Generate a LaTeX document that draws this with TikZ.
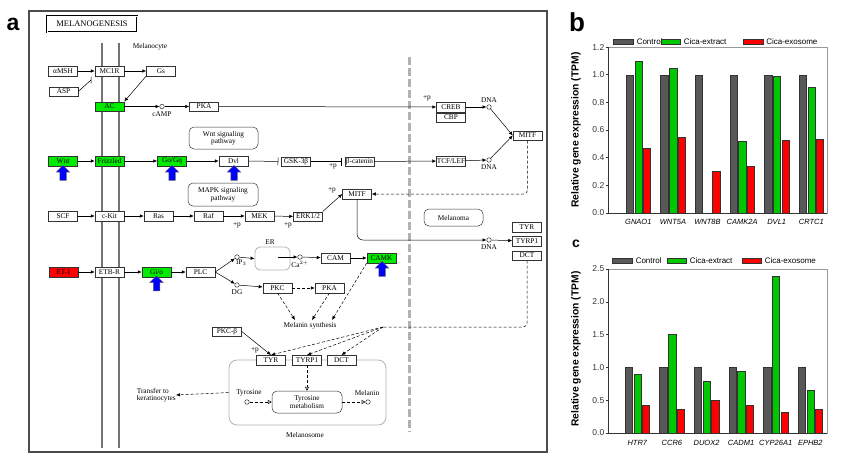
\documentclass[tikz,border=0pt]{standalone}
\usepackage{fontspec}
\setmainfont{Liberation Serif}
\newfontfamily\arial{Liberation Sans}
\usepackage{tikz}
\usetikzlibrary{arrows.meta, shapes.arrows, positioning}
\definecolor{keggGreen}{RGB}{0,235,0}
\definecolor{barGreen}{RGB}{0,200,0}
\definecolor{barGray}{RGB}{88,88,88}
\tikzset{
    gene/.style={draw=black!80, fill=white, minimum width=29pt, minimum height=9.5pt, inner sep=0pt, font=\fontsize{7.3}{7.5}\selectfont},
    ongene/.style={gene, fill=keggGreen},
    redgene/.style={gene, fill=red},
    pathway/.style={draw=black!80, rounded corners=5pt, align=center, inner sep=0pt, font=\fontsize{7.3}{7.5}\selectfont},
    cpd/.style={circle, draw=black!80, fill=white, inner sep=0pt, minimum size=4.5pt},
    lbl/.style={inner sep=0pt, font=\fontsize{7.3}{7.5}\selectfont},
    act/.style={-{Latex[length=4pt,width=3.5pt]}},
    inh/.style={-{Bar[width=8pt]}, shorten >=3pt},
    ind/.style={dash pattern=on 3pt off 2pt, -{Latex[length=4pt,width=3.5pt]}},
    upreg/.style={single arrow, draw=black!60, fill=blue, shape border rotate=90, minimum height=15pt, single arrow head extend=3.5pt, single arrow head indent=0pt, inner sep=3pt},
    ctrlbar/.style={draw=black!80, fill=barGray, line width=0.4pt},
    extbar/.style={draw=black!80, fill=barGreen, line width=0.4pt},
    exobar/.style={draw=black!80, fill=red, line width=0.4pt},
    tick/.style={font=\arial\fontsize{8.5}{9}\selectfont, left=1pt, inner sep=0pt},
    glab/.style={font=\arial\itshape\fontsize{7.5}{8}\selectfont, inner sep=0pt},
    leg/.style={font=\arial\fontsize{8}{9}\selectfont, anchor=west, inner sep=0pt},
    ylab/.style={rotate=90, font=\arial\bfseries\fontsize{10.3}{11}\selectfont, inner sep=0pt}
}

\begin{document}
\begin{tikzpicture}[x=1pt, y=-1pt, line width=0.5pt]
    \useasboundingbox (0,0) rectangle (842,464);
    % panel a: melanogenesis map
    \node[font=\arial\bfseries\fontsize{23}{23}\selectfont] (pa) at (13,24) {a};
    \draw[black!70, line width=1.2pt] (29,11) rectangle (547,452);
    \node[draw, double, double distance=0.8pt, minimum width=90pt, minimum height=16pt, inner sep=0pt, font=\fontsize{8.5}{9}\selectfont] (title) at (92,24) {MELANOGENESIS};
    \draw[black!55, line width=1.3pt] (102,43) -- (102,448) (119,43) -- (119,448);
    \draw[black!30, line width=3pt, dash pattern=on 8pt off 3pt] (409,57) -- (409,432);
    \node[draw=black!30, line width=0.8pt, rounded corners=8pt, minimum width=157pt, minimum height=65pt] (melsome) at (307.5,392.5) {};
    \node[draw=black!30, line width=0.8pt, rounded corners=5pt, minimum width=35pt, minimum height=23pt] (er) at (272.5,258.5) {};
    \node[lbl] (melanocyte) at (150,47) {Melanocyte};

    \node[gene] (aMSH) at (63,71) {αMSH};
    \node[gene] (MC1R) at (109.5,71) {MC1R};
    \node[gene] (Gs) at (161,71) {Gs};
    \node[gene] (ASP) at (63.5,91.5) {ASP};
    \node[ongene] (AC) at (109.5,106.5) {AC};
    \node[cpd] (camp) at (162,106.5) {};
    \node[lbl, below=2pt of camp] (camplab) {cAMP};
    \node[gene] (PKA) at (204,106.5) {PKA};
    \node[gene] (CREB) at (451,107) {CREB};
    \node[gene] (CBP) at (451,117.5) {CBP};
    \node[cpd] (dnaC) at (489,107) {};
    \node[lbl, above=1.5pt of dnaC] (dnaClab) {DNA};
    \node[lbl] (pCREB) at (427,98) {+p};
    \node[gene] (MITFr) at (527.5,135.5) {MITF};

    \node[pathway, minimum width=69pt, minimum height=22pt] (wntpath) at (223.5,138) {Wnt signaling\\pathway};
    \node[ongene] (Wnt) at (63,161) {Wnt};
    \node[ongene] (Frizzled) at (109.5,161) {Frizzled};
    \node[ongene] (GoGq) at (172,161) {Go/Gq};
    \node[gene] (Dvl) at (233.5,161) {Dvl};
    \node[gene] (GSK) at (296,161.5) {GSK-3β};
    \node[gene] (bcat) at (359.5,161.5) {β-catenin};
    \node[lbl] (pbcat) at (333,166) {+p};
    \node[gene] (TCF) at (451,161) {TCF/LEF};
    \node[cpd] (dnaT) at (489,160) {};
    \node[lbl, below=1.5pt of dnaT] (dnaTlab) {DNA};
    \node[upreg] (upWnt) at (63,174.5) {};
    \node[upreg] (upGoGq) at (172,174.5) {};
    \node[upreg] (upDvl) at (234,174.5) {};

    \node[pathway, minimum width=70pt, minimum height=23pt] (mappath) at (223,194.5) {MAPK signaling\\pathway};
    \node[gene] (MITFm) at (357,194) {MITF};
    \node[lbl] (pMITF) at (332,190) {+p};
    \node[gene] (SCF) at (63,216) {SCF};
    \node[gene] (cKit) at (109.5,216) {c-Kit};
    \node[gene] (Ras) at (158.5,216) {Ras};
    \node[gene] (Raf) at (208.5,216) {Raf};
    \node[gene] (MEK) at (259.5,216) {MEK};
    \node[gene] (ERK) at (308,216.5) {ERK1/2};
    \node[lbl] (pMEK) at (237,225) {+p};
    \node[lbl] (pERK) at (288,225) {+p};
    \node[pathway, minimum width=59pt, minimum height=17pt] (melanoma) at (453.5,217.5) {Melanoma};
    \node[gene] (TYRr) at (527,227) {TYR};
    \node[gene] (TYRP1r) at (527,241) {TYRP1};
    \node[gene] (DCTr) at (527,255.5) {DCT};
    \node[cpd] (dnaM) at (489,240) {};
    \node[lbl, below=1.5pt of dnaM] (dnaMlab) {DNA};

    \node[redgene] (ET1) at (63.5,272) {ET-1};
    \node[gene] (ETBR) at (109.5,272) {ETB-R};
    \node[ongene] (Gio) at (156.5,272) {Gi/o};
    \node[upreg] (upGio) at (156.5,285) {};
    \node[gene] (PLC) at (200.5,272) {PLC};
    \node[cpd] (ip3) at (237,257) {};
    \node[lbl, below right=1pt and -3pt of ip3] (ip3lab) {IP$_3$};
    \node[cpd] (dg) at (237,285) {};
    \node[lbl, below=2pt of dg] (dglab) {DG};
    \node[lbl] (erlab) at (270,242) {ER};
    \coordinate (erin) at (278,257);
    \node[cpd] (ca) at (300,257) {};
    \node[lbl, below=1.5pt of ca] (calab) {Ca$^{2+}$};
    \node[gene] (CAM) at (335.5,258) {CAM};
    \node[ongene] (CAMK) at (381.5,258) {CAMK};
    \node[upreg] (upCAMK) at (382,270.5) {};
    \node[gene] (PKC) at (277.5,288) {PKC};
    \node[gene] (PKA2) at (329.5,288) {PKA};
    \node[lbl] (msynlab) at (310,326) {Melanin synthesis};
    \coordinate (ms1) at (295,320);
    \coordinate (ms2) at (312,320);
    \coordinate (ms3) at (332,320);
    \coordinate (msyn) at (383,327);

    \node[gene] (PKCb) at (227,331.5) {PKC-β};
    \node[lbl] (pTYR) at (255,350) {+p};
    \node[gene] (TYRl) at (271,360) {TYR};
    \node[gene] (TYRP1l) at (307,360) {TYRP1};
    \node[gene] (DCTl) at (341.5,360) {DCT};
    \node[pathway, minimum width=70pt, minimum height=22pt] (tyrmet) at (307,402) {Tyrosine\\metabolism};
    \node[cpd] (tyrosine) at (247,402) {};
    \node[lbl] (tyrlab) at (249,393) {Tyrosine};
    \node[cpd] (melanin) at (368,402) {};
    \node[lbl] (mellab) at (367,393) {Melanin};
    \node[lbl] (mslab) at (305,435) {Melanosome};
    \node[lbl, align=left, anchor=east] (transfer) at (176,395) {Transfer to\\keratinocytes};

    % connectors
    \draw[act] (aMSH) -- (MC1R);
    \draw[act] (MC1R) -- (Gs);
    \coordinate (aspbar) at (91,80);
    \draw (ASP.east) -- (aspbar) ++(0,-3.5) -- ++(0,7);
    \draw[act] (Gs.south west) -- (AC.north east);
    \draw[act] (AC) -- (camp);
    \draw[act] (camp) -- (PKA);
    \draw[act] (PKA) -- (CREB);
    \draw[act] (CREB) -- (dnaC);
    \draw[act] (dnaC) -- (MITFr.west);
    \draw[act] (dnaT) -- (MITFr.west);
    \draw[act] (Wnt) -- (Frizzled);
    \draw[act] (Frizzled) -- (GoGq);
    \draw[act] (GoGq) -- (Dvl);
    \draw[inh] (Dvl) -- (GSK);
    \draw[inh] (GSK) -- (bcat);
    \draw[act] (bcat) -- (TCF);
    \draw[act] (TCF) -- (dnaT);
    \draw[ind, rounded corners=4pt] (MITFr.south) |- (MITFm.east);
    \draw[act] (SCF) -- (cKit);
    \draw[act] (cKit) -- (Ras);
    \draw[act] (Ras) -- (Raf);
    \draw[act] (Raf) -- (MEK);
    \draw[act] (MEK) -- (ERK);
    \draw[act] (ERK.north east) -- (MITFm.west);
    \draw[act, rounded corners=6pt] (MITFm.south) |- (dnaM);
    \draw[act] (dnaM) -- (TYRP1r);
    \draw[dash pattern=on 3pt off 2pt, rounded corners=4pt] (DCTr.south) |- (msyn);
    \draw[ind] (msyn) -- (TYRl.north);
    \draw[ind] (msyn) -- (TYRP1l.north);
    \draw[ind] (msyn) -- (DCTl.north);
    \draw[act] (ET1) -- (ETBR);
    \draw[act] (ETBR) -- (Gio);
    \draw[act] (Gio) -- (PLC);
    \draw[act] (PLC.east) -- (ip3);
    \draw[act] (PLC.east) -- (dg);
    \draw[act] (ip3) -- (er.west);
    \draw[act] (erin) -- (ca);
    \draw[act] (ca) -- (CAM);
    \draw[act] (CAM) -- (CAMK);
    \draw[act] (dg) -- (PKC);
    \draw[ind] (PKC) -- (PKA2);
    \draw[ind] (PKC.south) -- (ms1);
    \draw[ind] (PKA2.south) -- (ms2);
    \draw[ind] (CAMK.south west) -- (ms3);
    \draw[act] (PKCb.east) -- (TYRl.north);
    \draw[dash pattern=on 3pt off 2pt, -{Triangle[open,length=4pt,width=4pt]}] (TYRP1l.south) -- (tyrmet.north);
    \draw[dash pattern=on 3pt off 2pt, -{Triangle[open,length=4pt,width=4pt]}] (tyrosine) -- (tyrmet.west);
    \draw[dash pattern=on 3pt off 2pt, -{Triangle[open,length=4pt,width=4pt]}] (tyrmet.east) -- (melanin);
    \draw[ind] (melsome.west) -- (transfer.east);

    % panel b
    \node[font=\arial\bfseries\fontsize{26}{26}\selectfont] (pb) at (577,22) {b};
    \draw[black!40] (608,47) rectangle (827,213);
    \draw[black!80] (608,47) -- (608,213) -- (827,213);
    \foreach \v [count=\i] in {0.0,0.2,0.4,0.6,0.8,1.0,1.2}
        \draw[black!80] (608,{213-138.3*\v}) -- ++(-2.5,0) node[tick] (tb\i) {\v};
    \foreach \g/\c/\e/\gene in {0/1.10/0.47/GNAO1, 1/1.05/0.55/WNT5A, 2/0/0.30/WNT8B, 3/0.52/0.34/CAMK2A, 4/0.99/0.53/DVL1, 5/0.91/0.535/CRTC1} {
        \draw[ctrlbar] ({626+34.6*\g},213) rectangle ({633.3+34.6*\g},{213-138.3});
        \draw[extbar] ({634.8+34.6*\g},213) rectangle ({642.1+34.6*\g},{213-138.3*\c});
        \draw[exobar] ({643.3+34.6*\g},213) rectangle ({650.6+34.6*\g},{213-138.3*\e});
        \node[glab] (xb\g) at ({638.3+34.6*\g},222) {\gene};
    }
    \draw[ctrlbar] (613,39) rectangle (633,44);
    \node[leg] (lgb1) at (636.5,41.5) {Control};
    \draw[extbar] (661,39) rectangle (680,44);
    \node[leg] (lgb2) at (683.5,41.5) {Cica-extract};
    \draw[exobar] (743,39) rectangle (763,44);
    \node[leg] (lgb3) at (766,41.5) {Cica-exosome};
    \node[ylab] (ylb) at (576,130) {Relative gene expression (TPM)};

    % panel c
    \node[font=\arial\bfseries\fontsize{14}{14}\selectfont] (pc) at (576,244) {c};
    \draw[black!40] (608,269) rectangle (827,433);
    \draw[black!80] (608,269) -- (608,433) -- (827,433);
    \foreach \v [count=\i] in {0.0,0.5,1.0,1.5,2.0,2.5}
        \draw[black!80] (608,{433-65.6*\v}) -- ++(-2.5,0) node[tick] (tc\i) {\v};
    \foreach \g/\c/\e/\gene in {0/0.90/0.42/HTR7, 1/1.51/0.36/CCR6, 2/0.79/0.50/DUOX2, 3/0.94/0.43/CADM1, 4/2.39/0.31/CYP26A1, 5/0.66/0.36/EPHB2} {
        \draw[ctrlbar] ({625+34.6*\g},433) rectangle ({632.3+34.6*\g},{433-65.6});
        \draw[extbar] ({633.8+34.6*\g},433) rectangle ({641.1+34.6*\g},{433-65.6*\c});
        \draw[exobar] ({642.3+34.6*\g},433) rectangle ({649.6+34.6*\g},{433-65.6*\e});
        \node[glab] (xc\g) at ({637.3+34.6*\g},443) {\gene};
    }
    \draw[ctrlbar] (612,258.5) rectangle (632,263.5);
    \node[leg] (lgc1) at (635.5,261) {Control};
    \draw[extbar] (667,258.5) rectangle (686,263.5);
    \node[leg] (lgc2) at (689.5,261) {Cica-extract};
    \draw[exobar] (742,258.5) rectangle (761,263.5);
    \node[leg] (lgc3) at (764.5,261) {Cica-exosome};
    \node[ylab] (ylc) at (576,349) {Relative gene expression (TPM)};
\end{tikzpicture}
\end{document}
